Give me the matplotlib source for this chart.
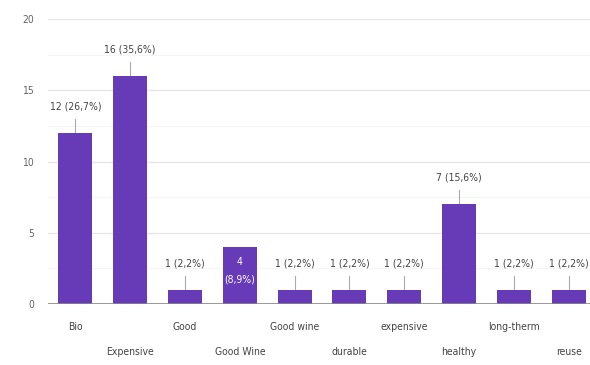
import matplotlib.pyplot as plt

categories = ['Bio', 'Expensive', 'Good', 'Good Wine', 'Good wine',
              'durable', 'expensive', 'healthy', 'long-therm', 'reuse']
counts = [12, 16, 1, 4, 1, 1, 1, 7, 1, 1]
percents = ['26,7', '35,6', '2,2', '8,9', '2,2', '2,2', '2,2', '15,6', '2,2', '2,2']
inside = [False, False, False, True, False, False, False, False, False, False]

plt.rcParams['font.family'] = ['DejaVu Sans']
plt.rcParams['font.stretch'] = 'condensed'

fig = plt.figure(figsize=(5.9, 3.65), dpi=100)
ax = fig.add_axes([0.0814, 0.167, 0.929, 0.781])

x = list(range(len(categories)))
ax.bar(x, counts, width=0.62, color='#673ab7', zorder=3)

ax.set_xlim(-0.5, len(categories) - 0.5)
ax.set_ylim(0, 20)
ax.set_yticks([0, 5, 10, 15, 20])
ax.set_yticks([2.5, 7.5, 12.5, 17.5], minor=True)
ax.grid(axis='y', which='major', color='#e6e6e6', linewidth=1, zorder=0)
ax.grid(axis='y', which='minor', color='#f5f5f5', linewidth=0.8, zorder=0)
ax.axhline(0, color='#888888', linewidth=1.2, zorder=4)

for s in ax.spines.values():
    s.set_visible(False)
ax.tick_params(axis='both', which='both', length=0, colors='#666666', labelsize=7.5)
ax.tick_params(axis='y', pad=10)

ax.set_xticks(x)
ax.set_xticklabels(['' for _ in x])
for i, name in enumerate(categories):
    off = -16.5 if i % 2 == 0 else -34.5
    ax.annotate(name, (i, 0), xytext=(0, off), textcoords='offset points',
                ha='center', va='center', fontsize=7.5, color='#444444',
                annotation_clip=False)

for i, (c, p) in enumerate(zip(counts, percents)):
    if inside[i]:
        ax.text(i, c - 0.7, f'{c}\n({p}%)', ha='center', va='top',
                fontsize=7.5, color='white', zorder=5, linespacing=1.9)
    else:
        ax.plot([i, i], [c, c + 1.0], color='#aaaaaa', linewidth=0.8, zorder=2)
        ax.text(i, c + 1.85, f'{c} ({p}%)', ha='center', va='center',
                fontsize=7.5, color='#444444', zorder=5)

fig.savefig('out.png', dpi=100)
